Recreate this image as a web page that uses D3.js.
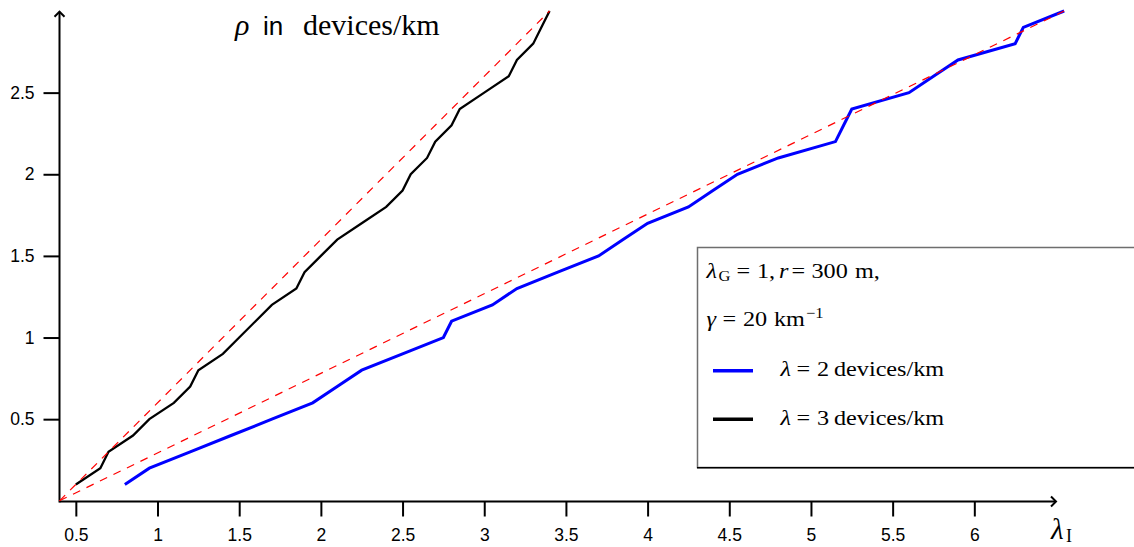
<!DOCTYPE html>
<html>
<head>
<meta charset="utf-8">
<script src="https://cdn.jsdelivr.net/npm/d3@7"></script>
<style>
  html, body { margin: 0; padding: 0; background: #fff; }
  svg { display: block; }
</style>
</head>
<body>
<svg id="chart" width="1134" height="547"></svg>
<script>
// ---- data ----
const rhoValues = [0.1,0.2,0.3,0.4,0.5,0.6,0.7,0.8,0.9,1.0,1.1,1.2,1.3,1.4,1.5,1.6,1.7,1.8,1.9,2.0,2.1,2.2,2.3,2.4,2.5,2.6,2.7,2.8,2.9,3.0];
const lambdaI_dens3 = [0.5,0.65,0.7,0.85,0.95,1.1,1.2,1.25,1.4,1.5,1.6,1.7,1.85,1.9,2.0,2.1,2.25,2.4,2.5,2.55,2.65,2.7,2.8,2.85,3.0,3.15,3.2,3.3,3.35,3.4];
const lambdaI_dens2 = [0.8,0.95,1.2,1.45,1.7,1.95,2.1,2.25,2.5,2.75,2.8,3.05,3.2,3.45,3.7,3.85,4.0,4.25,4.4,4.55,4.8,5.15,5.2,5.25,5.6,5.75,5.9,6.25,6.3,6.55];
const refLine3X = [0.4, 3.4];
const refLine3Y = [0, 3];
const refLine2X = [0.4, 6.55];
const refLine2Y = [0, 3];
const xTicks = [0.5,1,1.5,2,2.5,3,3.5,4,4.5,5,5.5,6];
const yTicks = [0.5,1,1.5,2,2.5];
const xDomain = [0.4, 6.5];
const yDomain = [0, 3];

// ---- drawing ----
const svg = d3.select("#chart");
const x = d3.scaleLinear().domain(xDomain).range([59.5, 1056]);
const y = d3.scaleLinear().domain(yDomain).range([500.8, 11]);
const axisY0 = 501.5;

const zip = (xs, ys) => xs.map((v, i) => [v, ys[i]]);
const line = d3.line().x(d => x(d[0])).y(d => y(d[1]));

const serif = "'Liberation Serif', 'Times New Roman', serif";
const sans = "'Liberation Sans', Arial, sans-serif";

// axes
const xAxis = d3.axisBottom(x).tickValues(xTicks).tickSize(15).tickPadding(12).tickFormat(d3.format(""));
const gx = svg.append("g").attr("transform", `translate(0,${axisY0})`).call(xAxis);
const yAxis = d3.axisLeft(y).tickValues(yTicks).tickSize(16).tickPadding(9).tickFormat(d3.format(""));
const gy = svg.append("g").attr("transform", `translate(${x(xDomain[0])},0)`).call(yAxis);
[gx, gy].forEach(g => {
  g.select(".domain").remove();
  g.selectAll(".tick line").attr("stroke", "#000").attr("stroke-width", 2);
  g.selectAll(".tick text").attr("fill", "#000")
    .style("font-family", sans).style("font-size", "17.5px");
});

// axis lines with arrows
const ax = x(xDomain[0]);
svg.append("line").attr("x1", ax).attr("y1", axisY0).attr("x2", x(xDomain[1])).attr("y2", axisY0)
  .attr("stroke", "#000").attr("stroke-width", 2);
svg.append("line").attr("x1", ax).attr("y1", axisY0 + 1).attr("x2", ax).attr("y2", y(yDomain[1]) + 0.7)
  .attr("stroke", "#000").attr("stroke-width", 2);
const xe = x(xDomain[1]), ye = y(yDomain[1]) + 0.7;
svg.append("path").attr("d", `M${xe - 5},${axisY0 - 5} L${xe},${axisY0} L${xe - 5},${axisY0 + 5}`)
  .attr("fill", "none").attr("stroke", "#000").attr("stroke-width", 2);
svg.append("path").attr("d", `M${ax - 5},${ye + 5} L${ax},${ye} L${ax + 5},${ye + 5}`)
  .attr("fill", "none").attr("stroke", "#000").attr("stroke-width", 2);

// curves
svg.append("path").datum(zip(lambdaI_dens2, rhoValues)).attr("d", line)
  .attr("fill", "none").attr("stroke", "#0000ff").attr("stroke-width", 3);
svg.append("path").datum(zip(lambdaI_dens3, rhoValues)).attr("d", line)
  .attr("fill", "none").attr("stroke", "#000").attr("stroke-width", 2.3);

// reference dashed lines
[zip(refLine3X, refLine3Y), zip(refLine2X, refLine2Y)].forEach(d => {
  svg.append("path").datum(d).attr("d", line)
    .attr("fill", "none").attr("stroke", "#ff0000").attr("stroke-width", 1.2).attr("stroke-dasharray", "8,7");
});

// helper: text made of positioned tokens, stretched horizontally (LaTeX-like width)
function tokenText(parent, x0, yb, sx, size, tokens) {
  const g = parent.append("g").attr("transform", `translate(${x0},${yb}) scale(${sx},1)`);
  const t = g.append("text").style("font-family", serif).style("font-size", size + "px").attr("fill", "#000");
  tokens.forEach(k => {
    const ts = t.append("tspan").attr("x", (k.x - x0) / sx).attr("y", k.dy || 0).text(k.t);
    if (k.it) ts.style("font-style", "italic");
    if (k.size) ts.style("font-size", k.size + "px");
    if (k.font) ts.style("font-family", k.font);
  });
  return t;
}

// title
tokenText(svg, 235, 35, 1, 30, [
  {t: "ρ", x: 235, it: true},
  {t: "in", x: 263, font: sans, size: 26},
  {t: "devices/km", x: 303}
]);

// x-axis label
tokenText(svg, 1051, 539, 1, 29, [
  {t: "λ", x: 1051, it: true},
  {t: "I", x: 1066, size: 18, dy: 3}
]);

// legend box
const lb = svg.append("g");
lb.append("rect").attr("x", 697.5).attr("y", 247.5).attr("width", 460).attr("height", 220)
  .attr("fill", "#fff").attr("stroke", "#6e6e6e").attr("stroke-width", 1.5);
lb.append("line").attr("x1", 697).attr("x2", 1134).attr("y1", 467.8).attr("y2", 467.8)
  .attr("stroke", "#000").attr("stroke-width", 1.5);

const s = 1.1, fs = 22;
tokenText(lb, 706.5, 277.5, s, fs, [
  {t: "λ", x: 706.5, it: true},
  {t: "G", x: 718.5, size: 15, dy: 3},
  {t: "=", x: 736.5},
  {t: "1,", x: 757},
  {t: "r", x: 779, it: true},
  {t: "=", x: 791.5},
  {t: "300", x: 811.5},
  {t: "m,", x: 855}
]);
tokenText(lb, 706.5, 326, s, fs, [
  {t: "γ", x: 706.5, it: true},
  {t: "=", x: 722.5},
  {t: "20", x: 743},
  {t: "km", x: 774},
  {t: "−1", x: 806, size: 15, dy: -8}
]);

const legendItems = [
  {color: "#0000ff", num: "2", ly: 370.7, ty: 376},
  {color: "#000000", num: "3", ly: 419.3, ty: 424.5}
];
legendItems.forEach(it => {
  lb.append("line").attr("x1", 713).attr("x2", 753).attr("y1", it.ly).attr("y2", it.ly)
    .attr("stroke", it.color).attr("stroke-width", 3.5);
  tokenText(lb, 780.5, it.ty, s, fs, [
    {t: "λ", x: 780.5, it: true},
    {t: "=", x: 796.5},
    {t: it.num, x: 817},
    {t: "devices/km", x: 834}
  ]);
});
</script>
</body>
</html>
